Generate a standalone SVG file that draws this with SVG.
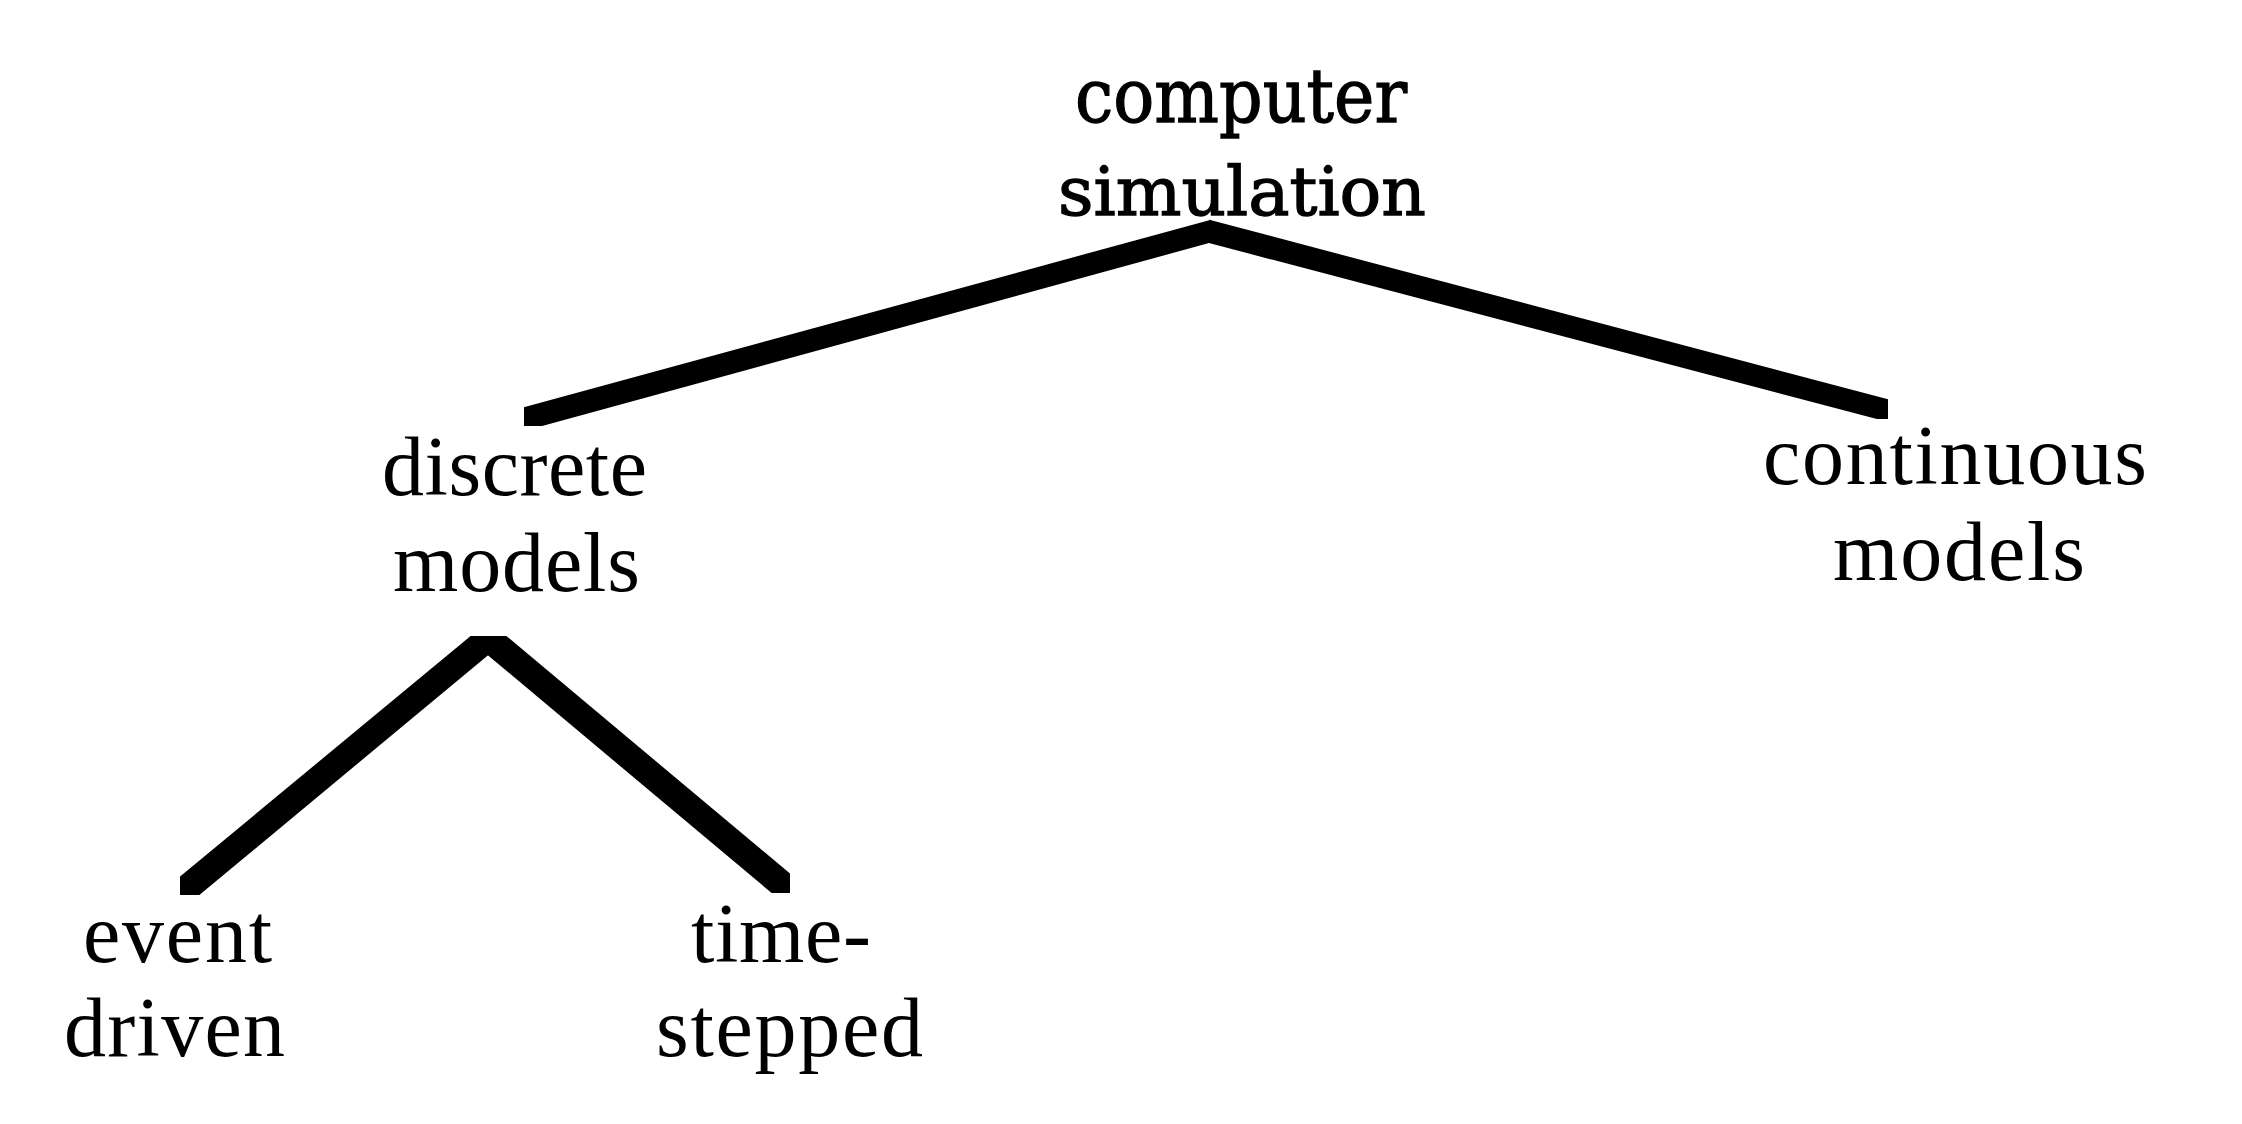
<svg xmlns="http://www.w3.org/2000/svg" width="2242" height="1124" viewBox="0 0 2242 1124">
<style>
.lbl{font-family:'Liberation Serif',serif;font-size:84px;fill:#000}
.top{font-family:'DejaVu Serif',serif;fill:#000;stroke:#000;stroke-width:1.3}
.edge{fill:#000;stroke:#000;stroke-width:2;stroke-linejoin:miter}
</style>
<rect x="0" y="0" width="2242" height="1124" fill="#fff"/>
<g id="connectors">
<path class="edge" d="M525,408 L1210,221 L1209,242 L542,425 L525,425 Z"/>
<path class="edge" d="M1210,221 L1887,400 L1887,418 L1877,418 L1209,242 Z"/>
<path class="edge" d="M181,877 L471,637 L489,637 L488,654 L199,894 L181,894 Z"/>
<path class="edge" d="M489,637 L506,637 L789,874 L789,892 L772,892 L488,654 Z"/>
</g>
<g id="node-computer-simulation">
<text class="top" x="1075" y="122" font-size="74" textLength="332" lengthAdjust="spacingAndGlyphs">computer</text>
<text class="top" x="1058" y="215" font-size="68" textLength="368" lengthAdjust="spacingAndGlyphs">simulation</text>
</g>
<g id="node-discrete-models">
<text class="lbl" font-family="Liberation Serif" x="382" y="495" textLength="265" lengthAdjust="spacing">discrete</text>
<text class="lbl" font-family="Liberation Serif" x="393" y="591" textLength="247" lengthAdjust="spacing">models</text>
</g>
<g id="node-continuous-models">
<text class="lbl" font-family="Liberation Serif" x="1763" y="484" textLength="384" lengthAdjust="spacing">continuous</text>
<text class="lbl" font-family="Liberation Serif" x="1833" y="580" textLength="252" lengthAdjust="spacing">models</text>
</g>
<g id="node-event-driven">
<text class="lbl" font-family="Liberation Serif" x="83" y="962" textLength="189" lengthAdjust="spacing">event</text>
<text class="lbl" font-family="Liberation Serif" x="64" y="1056" textLength="221" lengthAdjust="spacing">driven</text>
</g>
<g id="node-time-stepped">
<text class="lbl" font-family="Liberation Serif" x="691" y="962" textLength="180" lengthAdjust="spacing">time-</text>
<text class="lbl" font-family="Liberation Serif" x="656" y="1056" textLength="267" lengthAdjust="spacing">stepped</text>
</g>
</svg>
